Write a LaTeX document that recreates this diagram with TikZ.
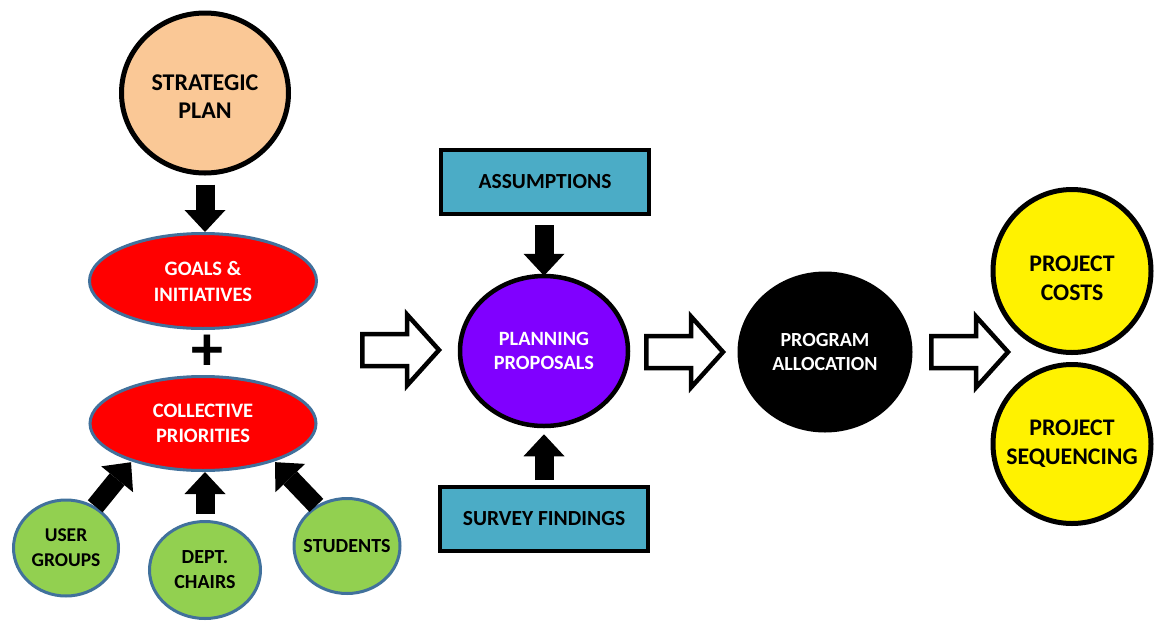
\documentclass[tikz,border=0pt]{standalone}
\usepackage{fontspec}
\setmainfont{Carlito}
\usetikzlibrary{arrows.meta,shapes.geometric}
\definecolor{peach}{RGB}{250,200,150}
\definecolor{edgeblue}{RGB}{65,113,156}
\definecolor{leaf}{RGB}{146,208,80}
\definecolor{teal}{RGB}{75,172,198}
\definecolor{violet}{RGB}{128,0,255}
\newcommand\fsz[2]{\fontsize{#1}{#2}\selectfont\bfseries}
\begin{document}
\begin{tikzpicture}[x=1pt,y=-1pt,
  base/.style={align=center,inner sep=0pt},
  blackring/.style={base,ellipse,draw=black,line width=5pt},
  blueoval/.style={base,ellipse,draw=edgeblue,line width=3pt},
  boxnode/.style={base,rectangle,draw=black,line width=4pt,fill=teal},
  tarrow/.style={line width=19pt,-{Triangle[width=41pt,length=22pt,line width=0pt]}},
  hollow/.pic={\draw[line width=4.5pt,fill=white,line join=miter]
    (2.25,-16) -- (47,-16) -- (47,-35.5) -- (79,0) -- (47,35.5) -- (47,16) -- (2.25,16) -- cycle;}
]
\useasboundingbox (0,0) rectangle (1160,622);
% left column
\node[blackring,fill=peach,minimum width=167pt,minimum height=160pt,font=\fsz{24}{28}] (sp) at (205,93) {\rule{0pt}{22pt}STRATEGIC\\PLAN};
\node[blueoval,fill=red,text=white,minimum width=227pt,minimum height=95pt,font=\fsz{20.5}{26}] (goals) at (203,281) {GOALS \&\\INITIATIVES};
\node[base,font=\fsz{64}{64}] (plus) at (207,353) {+};
\node[blueoval,fill=red,text=white,minimum width=226pt,minimum height=94pt,font=\fsz{20.5}{24.5}] (cp) at (203,423.5) {COLLECTIVE\\PRIORITIES};
\node[blueoval,fill=leaf,minimum width=105pt,minimum height=96pt,font=\fsz{19.5}{25}] (ug) at (66,548) {USER\\GROUPS};
\node[blueoval,fill=leaf,minimum width=111pt,minimum height=97pt,font=\fsz{20}{25}] (dc) at (205,570) {DEPT.\\CHAIRS};
\node[blueoval,fill=leaf,minimum width=106pt,minimum height=95pt,inner xsep=-25pt,font=\fsz{20}{25}] (st) at (347,546) {STUDENTS};
\draw[tarrow,shorten <=9pt] (sp.south) -- (sp.south |- goals.north);
\draw[tarrow,shorten >=1pt] (ug.55) -- (cp.208);
\draw[tarrow,shorten <=6pt,shorten >=0pt] (dc.north) -- (dc.north |- cp.south);
\draw[tarrow,shorten >=1pt] (st.127) -- (cp.332);
% middle column
\node[boxnode,minimum width=208pt,minimum height=64pt,font=\fsz{21.5}{24}] (as) at (545,182) {ASSUMPTIONS};
\node[blackring,line width=4.5pt,fill=violet,text=white,minimum width=168pt,minimum height=150pt,font=\fsz{20.3}{24}] (pp) at (544,351) {PLANNING\\PROPOSALS};
\node[boxnode,minimum width=208pt,minimum height=64pt,font=\fsz{21.5}{24}] (sv) at (544,519) {SURVEY FINDINGS};
\draw[tarrow,shorten <=9pt,shorten >=-2pt] (as.south -| pp.north) -- (pp.north);
\draw[tarrow,shorten <=5pt,shorten >=6pt] (sv.north -| pp.south) -- (pp.south);
% right part
\node[blackring,fill=black,text=white,minimum width=170pt,minimum height=156pt,font=\fsz{20}{23.5}] (pa) at (825,352) {PROGRAM\\ALLOCATION};
\node[blackring,fill=yellow,minimum width=158pt,minimum height=163pt,font=\fsz{23.8}{28.5}] (pc) at (1072,271) {\rule{0pt}{30pt}PROJECT\\COSTS};
\node[blackring,fill=yellow,minimum width=158pt,minimum height=159pt,inner xsep=-35pt,font=\fsz{23.8}{29}] (ps) at (1072,444) {PROJECT\\SEQUENCING};
% hollow arrows
\pic at (360,350) {hollow};
\pic at (644,352) {hollow};
\pic at (929,352) {hollow};
\end{tikzpicture}
\end{document}
